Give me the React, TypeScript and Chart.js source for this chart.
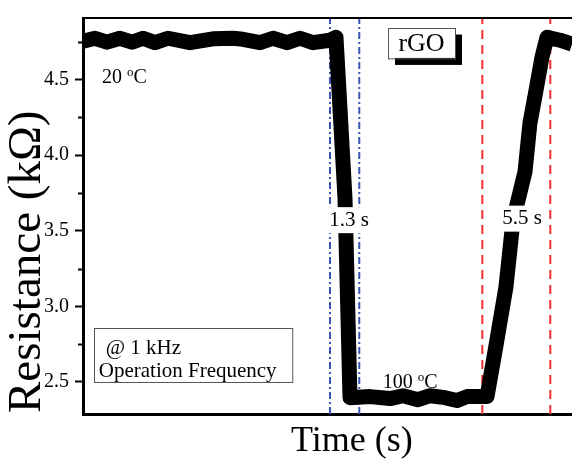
import React, { useEffect, useRef } from 'react';
import { Chart, registerables } from 'chart.js';

Chart.register(...registerables);

const FONT = '"Liberation Serif", "Times New Roman", Times, serif';

// Time axis (arbitrary units, no tick labels in the reference)
const timeValues = [
  0, 2.45, 4.91, 7.57, 10.02, 12.27, 14.72, 17.38, 21.88, 26.58, 30.67, 32.72,
  36.2, 38.85, 41.72, 44.38, 47.03, 50.51, 51.74, 53.58, 54.6, 58.69, 62.78,
  65.44, 68.51, 70.96, 74.03, 76.48, 78.53, 82.62, 84.25, 86.5, 87.93, 90.39,
  91.41, 92.64, 93.87, 94.89, 97.55, 100,
];
// Resistance (kΩ)
const resistanceValues = [
  4.753, 4.773, 4.747, 4.773, 4.747, 4.773, 4.744, 4.773, 4.744, 4.769, 4.773,
  4.766, 4.744, 4.773, 4.744, 4.773, 4.744, 4.76, 4.779, 3.714, 2.396, 2.403,
  2.39, 2.409, 2.383, 2.409, 2.396, 2.377, 2.403, 2.403, 2.701, 3.13, 3.565,
  3.89, 4.214, 4.429, 4.649, 4.779, 4.76, 4.734,
];

const yTicks = [2.5, 3.0, 3.5, 4.0, 4.5];
const yMinorTicks = [2.75, 3.25, 3.75, 4.25, 4.75];
const xRange = [0, 100];
const yRange = [2.288, 4.907];

// Response / recovery markers (time)
const responseLines = [50.51, 56.5];
const recoveryLines = [81.66, 95.56];

const responseLabel = '1.3 s';
const recoveryLabel = '5.5 s';
const materialLabel = 'rGO';
const freqLines = ['@ 1 kHz', 'Operation Frequency'];
const xTitle = 'Time (s)';
const yTitle = 'Resistance (kΩ)';

function vline(xv: number) {
  return [
    { x: xv, y: yRange[0] },
    { x: xv, y: yRange[1] },
  ];
}

function drawDegree(ctx: CanvasRenderingContext2D, prefix: string, x: number, baseline: number, size: number) {
  ctx.textAlign = 'left';
  ctx.textBaseline = 'alphabetic';
  ctx.font = `${size}px ${FONT}`;
  ctx.fillStyle = '#000';
  ctx.fillText(prefix, x, baseline);
  let cx = x + ctx.measureText(prefix).width;
  ctx.font = `${Math.round(size * 0.65)}px ${FONT}`;
  ctx.fillText('o', cx, baseline - size * 0.36);
  cx += ctx.measureText('o').width;
  ctx.font = `${size}px ${FONT}`;
  ctx.fillText('C', cx, baseline);
}

const annotPlugin = {
  id: 'annot',
  afterDatasetsDraw(chart: any) {
    const { ctx, chartArea, scales } = chart;
    const x = scales.x;
    const y = scales.y;
    ctx.save();
    // top frame line
    ctx.strokeStyle = '#000';
    ctx.lineWidth = 2;
    ctx.beginPath();
    ctx.moveTo(chartArea.left, chartArea.top);
    ctx.lineTo(chartArea.right, chartArea.top);
    ctx.stroke();
    // minor ticks
    yMinorTicks.forEach((v) => {
      const py = Math.round(y.getPixelForValue(v)) + 0.5;
      ctx.beginPath();
      ctx.moveTo(chartArea.left - 5, py);
      ctx.lineTo(chartArea.left, py);
      ctx.stroke();
    });

    // white-backed labels
    const whiteLabel = (text: string, cx: number, cy: number) => {
      ctx.font = `21px ${FONT}`;
      const w = ctx.measureText(text).width;
      ctx.fillStyle = '#fff';
      ctx.fillRect(cx - w / 2 - 2, cy - 13, w + 4, 26);
      ctx.fillStyle = '#000';
      ctx.textAlign = 'center';
      ctx.textBaseline = 'middle';
      ctx.fillText(text, cx, cy);
    };
    whiteLabel(responseLabel, x.getPixelForValue(54.4), y.getPixelForValue(3.57));
    whiteLabel(recoveryLabel, x.getPixelForValue(89.8), y.getPixelForValue(3.58));

    // temperatures
    drawDegree(ctx, '20 ', x.getPixelForValue(3.9), y.getPixelForValue(4.474), 20);
    drawDegree(ctx, '100 ', x.getPixelForValue(61.3), y.getPixelForValue(2.46), 20);

    // rGO box with shadow
    const bx1 = x.getPixelForValue(62.37);
    const bx2 = x.getPixelForValue(76.07);
    const by1 = y.getPixelForValue(4.844);
    const by2 = y.getPixelForValue(4.643);
    ctx.fillStyle = '#000';
    ctx.fillRect(bx1 + 7, by1 + 7, bx2 - bx1, by2 - by1);
    ctx.fillStyle = '#fff';
    ctx.fillRect(bx1, by1, bx2 - bx1, by2 - by1);
    ctx.strokeStyle = '#555';
    ctx.lineWidth = 1;
    ctx.strokeRect(Math.round(bx1) + 0.5, Math.round(by1) + 0.5, bx2 - bx1, by2 - by1);
    ctx.fillStyle = '#000';
    ctx.font = `26px ${FONT}`;
    ctx.textAlign = 'center';
    ctx.textBaseline = 'alphabetic';
    ctx.fillText(materialLabel, (bx1 + bx2) / 2, by2 - 7);

    // frequency box
    const fx1 = x.getPixelForValue(2.2);
    const fx2 = x.getPixelForValue(42.74);
    const fy1 = y.getPixelForValue(2.857);
    const fy2 = y.getPixelForValue(2.5);
    ctx.strokeStyle = '#555';
    ctx.strokeRect(Math.round(fx1) + 0.5, Math.round(fy1) + 0.5, fx2 - fx1, fy2 - fy1);
    ctx.fillStyle = '#000';
    ctx.font = `21px ${FONT}`;
    ctx.textAlign = 'left';
    ctx.fillText(freqLines[0], fx1 + 12, y.getPixelForValue(2.682));
    ctx.fillText(freqLines[1], fx1 + 5, y.getPixelForValue(2.535));

    // axis titles
    ctx.font = `36px ${FONT}`;
    ctx.textAlign = 'center';
    ctx.textBaseline = 'alphabetic';
    ctx.fillText(xTitle, x.getPixelForValue(55.0), 451);

    ctx.save();
    ctx.translate(28, chartArea.bottom - 1);
    ctx.rotate(-Math.PI / 2);
    ctx.font = `47px ${FONT}`;
    ctx.textAlign = 'left';
    ctx.textBaseline = 'middle';
    ctx.fillText(yTitle, 0, 0);
    ctx.restore();

    ctx.restore();
  },
};

export default function App() {
  const canvasRef = useRef<HTMLCanvasElement | null>(null);

  useEffect(() => {
    const canvas = canvasRef.current;
    if (!canvas) return;
    const lineData = timeValues.map((t, i) => ({ x: t, y: resistanceValues[i] }));
    const chart = new Chart(canvas, {
      type: 'line',
      data: {
        datasets: [
          {
            data: lineData,
            borderColor: '#000',
            borderWidth: 15,
            borderJoinStyle: 'round',
            borderCapStyle: 'butt',
            pointRadius: 0,
            tension: 0,
            fill: false,
          },
          ...responseLines.map((v) => ({
            data: vline(v),
            borderColor: '#3a55b0',
            borderWidth: 2,
            borderDash: [7, 3, 2, 3],
            pointRadius: 0,
            fill: false,
          })),
          ...recoveryLines.map((v) => ({
            data: vline(v),
            borderColor: '#ee3030',
            borderWidth: 2,
            borderDash: [9, 6],
            pointRadius: 0,
            fill: false,
          })),
        ],
      },
      options: {
        responsive: false,
        animation: false,
        events: [],
        layout: { padding: { top: 13, left: 0, right: 0, bottom: 0 } },
        plugins: { legend: { display: false }, tooltip: { enabled: false } },
        scales: {
          x: {
            type: 'linear',
            min: xRange[0],
            max: xRange[1],
            grid: { display: false },
            border: { display: true, color: '#000', width: 3 },
            ticks: { display: false },
            title: { display: false },
            afterFit: (scale: any) => {
              scale.height = 45;
            },
          },
          y: {
            type: 'linear',
            min: yRange[0],
            max: yRange[1],
            afterBuildTicks: (scale: any) => {
              scale.ticks = yTicks.map((v) => ({ value: v }));
            },
            grid: {
              display: true,
              drawOnChartArea: false,
              drawTicks: true,
              tickLength: 8,
              tickWidth: 2,
              tickColor: '#000',
            },
            border: { display: true, color: '#000', width: 3 },
            ticks: {
              color: '#000',
              padding: 6,
              font: { family: FONT, size: 20 },
              callback: (v: any) => Number(v).toFixed(1),
            },
            title: { display: false },
            afterFit: (scale: any) => {
              scale.width = 83;
            },
          },
        },
      },
      plugins: [annotPlugin],
    } as any);
    return () => chart.destroy();
  }, []);

  return (
    <div style={{ position: 'fixed', left: 0, top: 0, width: 572, height: 459, background: '#fff' }}>
      <canvas ref={canvasRef} width={572} height={459} />
    </div>
  );
}
